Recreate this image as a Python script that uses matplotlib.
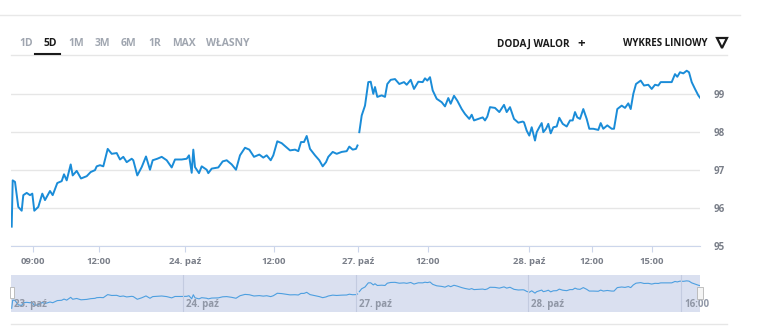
import matplotlib.pyplot as plt
import numpy as np
from matplotlib.lines import Line2D
from matplotlib.patches import Rectangle

plt.rcParams['font.family'] = ['Open Sans', 'DejaVu Sans']

# ordinal (trading-time) positions and prices, 23-24 paź
t_a = [0.7, 1.7, 4.0, 7.3, 10.7, 12.3, 15.7, 19.0, 21.3, 23.3,
       27.3, 31.3, 34.0, 39.0, 41.7, 46.3, 50.7, 53.0, 55.7, 59.7,
       61.7, 65.7, 70.0, 75.7, 79.7, 84.0, 85.7, 89.0, 92.3, 96.7,
       100.7, 105.7, 109.0, 112.3, 115.7, 120.7, 122.3, 126.3, 130.7, 135.0,
       139.0, 141.7, 146.3, 150.7, 155.7, 160.7, 164.0, 170.7, 175.7, 178.0,
       180.7, 182.3, 184.0, 188.0, 190.7, 195.7, 197.3, 200.7, 207.3, 211.7,
       215.7, 220.7, 225.0, 229.0, 234.0, 238.3, 243.0, 248.3, 252.3, 255.7,
       259.7, 262.3, 266.3, 270.7, 275.0, 279.0, 284.0, 287.3, 290.0, 293.0,
       295.7, 299.0, 304.0, 308.3, 311.7, 315.0, 317.3, 321.7, 325.7, 330.7,
       335.7, 338.3, 341.7, 345.0, 346.5]
v_a = [95.51, 96.73, 96.69, 96.03, 95.93, 96.34, 96.40, 96.34, 96.38, 95.93,
       96.03, 96.38, 96.21, 96.45, 96.34, 96.66, 96.71, 96.89, 96.73, 97.15,
       96.86, 96.98, 96.78, 96.84, 96.95, 97.00, 97.10, 97.13, 97.10, 97.56,
       97.43, 97.45, 97.28, 97.35, 97.21, 97.30, 97.26, 96.86, 97.08, 97.36,
       97.01, 97.26, 97.30, 97.35, 97.26, 97.07, 97.28, 97.28, 97.30, 97.39,
       96.93, 97.54, 97.08, 96.92, 97.10, 97.01, 96.92, 97.04, 97.07, 97.23,
       97.26, 97.15, 97.01, 97.39, 97.59, 97.54, 97.35, 97.41, 97.33, 97.39,
       97.26, 97.39, 97.76, 97.71, 97.61, 97.52, 97.54, 97.50, 97.74, 97.74,
       97.90, 97.56, 97.39, 97.26, 97.10, 97.21, 97.35, 97.48, 97.43, 97.48,
       97.50, 97.62, 97.54, 97.56, 97.65]

# 27-28 paź
t_b = [348.3, 350.7, 354.0, 357.3, 359.7, 362.3, 364.0, 366.3, 370.7, 374.0,
       376.3, 379.7, 384.0, 388.3, 393.0, 395.7, 399.7, 403.0, 407.3, 411.7,
       414.0, 416.3, 419.0, 421.7, 425.7, 430.7, 434.0, 437.3, 439.7, 443.0,
       446.3, 450.7, 454.0, 458.3, 460.7, 463.0, 467.3, 471.7, 474.0, 476.3,
       479.0, 484.0, 488.3, 493.0, 495.7, 499.0, 503.0, 507.3, 511.7, 513.0,
       515.7, 518.3, 520.7, 524.0, 525.7, 528.3, 530.7, 532.3, 535.0, 537.3,
       539.7, 542.3, 545.7, 548.3, 551.7, 555.7, 559.0, 561.7, 564.0, 566.3,
       569.0, 572.3, 575.7, 578.3, 582.3, 587.3, 589.7, 592.3, 596.3, 600.7,
       603.0, 606.3, 610.7, 614.0, 617.3, 619.7, 622.3, 625.0, 629.7, 633.0,
       637.3, 640.7, 644.0, 647.3, 649.7, 655.7, 660.7, 664.0, 666.3, 669.0,
       672.3, 675.7, 678.0, 680.7, 684.0, 687.3, 689.0]
v_b = [98.00, 98.44, 98.70, 99.32, 99.33, 99.01, 99.19, 98.93, 98.97, 98.93,
       99.27, 99.38, 99.40, 99.27, 99.32, 99.25, 99.38, 99.14, 99.33, 99.32,
       99.42, 99.36, 99.45, 99.10, 98.88, 98.79, 98.68, 98.90, 98.75, 98.96,
       98.83, 98.61, 98.48, 98.35, 98.46, 98.31, 98.35, 98.39, 98.31, 98.41,
       98.66, 98.64, 98.53, 98.72, 98.53, 98.66, 98.35, 98.25, 98.28, 98.26,
       98.04, 97.91, 98.13, 97.78, 98.00, 98.13, 98.24, 98.00, 98.09, 98.22,
       97.97, 98.13, 98.15, 98.38, 98.22, 98.15, 98.31, 98.31, 98.53, 98.39,
       98.35, 98.61, 98.35, 98.09, 98.09, 98.06, 98.24, 98.09, 98.18, 98.09,
       98.09, 98.61, 98.70, 98.64, 98.76, 98.61, 99.01, 99.27, 99.36, 99.23,
       99.25, 99.14, 99.25, 99.23, 99.32, 99.32, 99.32, 99.53, 99.46, 99.58,
       99.55, 99.62, 99.58, 99.32, 99.14, 98.97, 98.91]

tick_pos = [22, 88, 174, 263, 347, 417, 518, 581, 641]
tick_lab = ['09:00', '12:00', '24. paź', '12:00', '27. paź', '12:00', '28. paź', '12:00', '15:00']
nav_pos = [0, 172, 345, 517, 670]
nav_lab = ['23. paź', '24. paź', '27. paź', '28. paź', '16:00']
y_ticks = [95, 96, 97, 98, 99]
tabs = ['1D', '5D', '1M', '3M', '6M', '1R', 'MAX', 'WŁASNY']
tab_x = [19, 43, 68, 95, 121, 148, 172, 206]

W, H = 759, 336
def fx(px):
    return px / W
def fy(py):
    return 1 - py / H

t = np.array(t_a + [np.nan] + t_b)
v = np.array(v_a + [np.nan] + v_b)

fig = plt.figure(figsize=(W / 100, H / 100), dpi=100)

# main chart
ax = fig.add_axes([fx(11), fy(246), fx(700) - fx(11), fy(62) - fy(246)])
ax.plot(t, v, color='#1a8cd8', lw=1.4, solid_joinstyle='round')
ax.set_xlim(0, 689)
ax.set_ylim(95, 99.85)
ax.set_yticks(y_ticks)
ax.yaxis.tick_right()
ax.grid(axis='y', color='#e6e6e6', lw=1)
ax.set_axisbelow(True)
for s in ['top', 'left', 'right']:
    ax.spines[s].set_visible(False)
ax.spines['bottom'].set_color('#ccd6eb')
ax.set_xticks(tick_pos, tick_lab)
ax.tick_params(axis='x', length=4, color='#ccd6eb', labelsize=6.8, labelcolor='#7a7f89', pad=4)
ax.tick_params(axis='y', length=0, pad=10, labelsize=7, labelcolor='#7a7f89')
for lbl in ax.get_xticklabels() + ax.get_yticklabels():
    lbl.set_fontweight('bold')

# navigator
nav = fig.add_axes([fx(11), fy(312), fx(700) - fx(11), fy(275) - fy(312)])
nav.set_facecolor('#dae0f0')
nav.plot(t, v, color='#4d9fe0', lw=0.8)
nav.set_xlim(0, 689)
nav.set_ylim(94.95, 100.5)
nav.set_xticks([])
nav.set_yticks([])
for s in nav.spines.values():
    s.set_visible(False)
for p in nav_pos[1:]:
    nav.axvline(p, color='#c3cbe0', lw=0.8)
for p, lab in zip(nav_pos, nav_lab):
    nav.annotate(lab, (p, 0.2), xycoords=('data', 'axes fraction'), xytext=(2.5, 0),
                 textcoords='offset points', ha='left', va='center', fontsize=7,
                 fontweight='bold', color='#9097a6', annotation_clip=False)
fig.add_artist(Rectangle((fx(9.5), fy(298)), 4 / W, 11 / H, transform=fig.transFigure,
                         facecolor='white', edgecolor='#b5b5b5', lw=0.6))
fig.add_artist(Rectangle((fx(697), fy(299)), 6 / W, 12 / H, transform=fig.transFigure,
                         facecolor='#f4f4f4', edgecolor='#b5b5b5', lw=0.6))

# header
fig.add_artist(Line2D([0, fx(740)], [fy(15)] * 2, color='#e8e8e8', lw=1))
fig.add_artist(Line2D([fx(11), fx(727)], [fy(55)] * 2, color='#e6e6e6', lw=1))
fig.add_artist(Line2D([fx(35), fx(60)], [fy(54)] * 2, color='#1a1a1a', lw=1.5))
for x, lab in zip(tab_x, tabs):
    fig.text(fx(x), fy(43), lab, ha='left', va='center', fontsize=7.5, fontweight='bold',
             color='#1a1a1a' if lab == '5D' else '#a0a6b0')
fig.text(fx(497), fy(44), 'DODAJ WALOR', ha='left', va='center', fontsize=7.2,
         fontweight='bold', color='#1a1a1a')
fig.text(fx(581), fy(44), '+', ha='center', va='center', fontsize=9.5,
         fontweight='bold', color='#1a1a1a')
fig.text(fx(623), fy(43.5), 'WYKRES LINIOWY', ha='left', va='center', fontsize=7.0,
         fontweight='bold', color='#1a1a1a')
fig.add_artist(Line2D([fx(721.5)], [fy(42.5)], marker='v', ms=7, mfc='white', mec='#1a1a1a',
                      mew=1.6, transform=fig.transFigure))

# bottom rule
fig.add_artist(Line2D([fx(11), fx(727)], [fy(324)] * 2, color='#e6e6e6', lw=1))

fig.savefig('out.png', dpi=100)
